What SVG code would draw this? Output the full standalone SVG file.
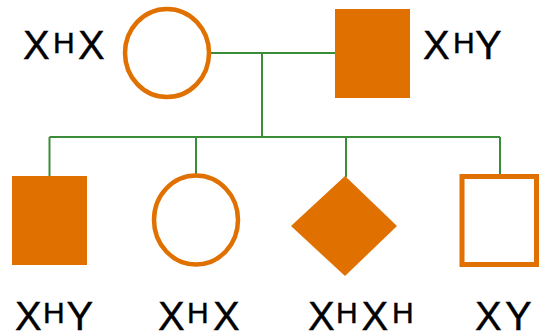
<svg xmlns="http://www.w3.org/2000/svg" width="539" height="336" viewBox="0 0 539 336">
<style>
.ln{stroke:#3a8c3a;stroke-width:2;fill:none}
.fill{fill:#e07000;stroke:none}
.open{fill:#fff;stroke:#e07000;stroke-width:4.5}
.t{font-family:"Liberation Sans",Arial,sans-serif;font-size:40px;fill:#000;stroke:#000;stroke-width:0.4}
.s{font-size:30px}
</style>
<rect width="539" height="336" fill="#fff"/>
<g id="connectors">
<line class="ln" x1="211" y1="53" x2="335" y2="53"/>
<line class="ln" x1="262" y1="53" x2="262" y2="137"/>
<line class="ln" x1="49.5" y1="137" x2="500" y2="137"/>
<line class="ln" x1="49.5" y1="137" x2="49.5" y2="176"/>
<line class="ln" x1="196" y1="137" x2="196" y2="174"/>
<line class="ln" x1="346" y1="137" x2="346" y2="177"/>
<line class="ln" x1="500" y1="137" x2="500" y2="174"/>
</g>
<g id="mother">
<ellipse class="open" cx="167" cy="53" rx="42" ry="44"/>
<text class="t" y="59"><tspan x="23">X</tspan><tspan class="s" x="53" y="53">H</tspan><tspan x="78" y="59">X</tspan></text>
</g>
<g id="father">
<rect class="fill" x="335" y="9" width="75" height="89"/>
<text class="t" y="59"><tspan x="423">X</tspan><tspan class="s" x="453" y="53">H</tspan><tspan x="475" y="59">Y</tspan></text>
</g>
<g id="child1">
<rect class="fill" x="12" y="176" width="75" height="89"/>
<text class="t" y="330"><tspan x="15">X</tspan><tspan class="s" x="43" y="323">H</tspan><tspan x="66.5" y="330">Y</tspan></text>
</g>
<g id="child2">
<ellipse class="open" cx="196" cy="220" rx="42" ry="44.5"/>
<text class="t" y="330"><tspan x="158">X</tspan><tspan class="s" x="187" y="323">H</tspan><tspan x="213" y="330">X</tspan></text>
</g>
<g id="child3">
<polygon class="fill" points="345,176 397,226 345,276 291,226"/>
<text class="t" y="330"><tspan x="308">X</tspan><tspan class="s" x="336" y="323">H</tspan><tspan x="361.5" y="330">X</tspan><tspan class="s" x="392" y="323">H</tspan></text>
</g>
<g id="child4">
<rect x="462" y="176.5" width="74.5" height="88" fill="#fff" stroke="#e07000" stroke-width="5"/>
<text class="t" y="330"><tspan x="475">X</tspan><tspan x="505">Y</tspan></text>
</g>
</svg>
